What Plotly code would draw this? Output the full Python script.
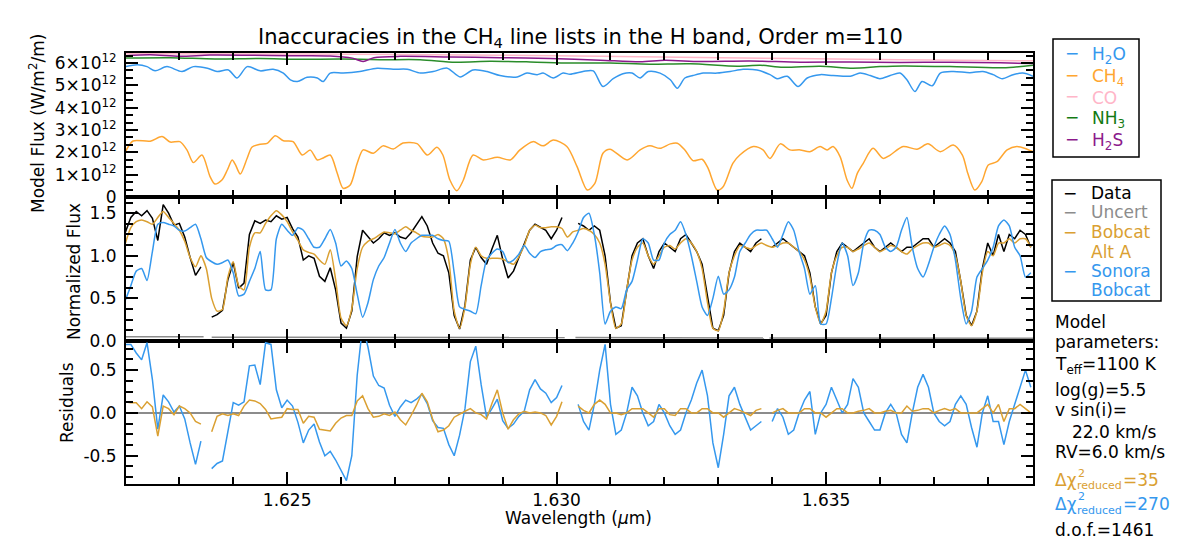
import plotly.graph_objects as go
from plotly.subplots import make_subplots

# ---------------- data ----------------
# common wavelength grid (micron) for the observed spectrum and the two models
wavelength = [
    1.6220, 1.6221, 1.6222, 1.6223, 1.6224, 1.6225, 1.6226, 1.6227, 1.6228, 1.6229,
    1.6230, 1.6231, 1.6232, 1.6233, 1.6234, 1.6235, 1.6236, 1.6237, 1.6238, 1.6239,
    1.6240, 1.6241, 1.6242, 1.6243, 1.6244, 1.6245, 1.6246, 1.6247, 1.6248, 1.6249,
    1.6250, 1.6251, 1.6252, 1.6253, 1.6254, 1.6255, 1.6256, 1.6257, 1.6258, 1.6259,
    1.6260, 1.6261, 1.6262, 1.6263, 1.6264, 1.6265, 1.6266, 1.6267, 1.6268, 1.6269,
    1.6270, 1.6271, 1.6272, 1.6273, 1.6274, 1.6275, 1.6276, 1.6277, 1.6278, 1.6279,
    1.6280, 1.6281, 1.6282, 1.6283, 1.6284, 1.6285, 1.6286, 1.6287, 1.6288, 1.6289,
    1.6290, 1.6291, 1.6292, 1.6293, 1.6294, 1.6295, 1.6296, 1.6297, 1.6298, 1.6299,
    1.6300, 1.6301, 1.6302, 1.6303, 1.6304, 1.6305, 1.6306, 1.6307, 1.6308, 1.6309,
    1.6310, 1.6311, 1.6312, 1.6313, 1.6314, 1.6315, 1.6316, 1.6317, 1.6318, 1.6319,
    1.6320, 1.6321, 1.6322, 1.6323, 1.6324, 1.6325, 1.6326, 1.6327, 1.6328, 1.6329,
    1.6330, 1.6331, 1.6332, 1.6333, 1.6334, 1.6335, 1.6336, 1.6337, 1.6338, 1.6339,
    1.6340, 1.6341, 1.6342, 1.6343, 1.6344, 1.6345, 1.6346, 1.6347, 1.6348, 1.6349,
    1.6350, 1.6351, 1.6352, 1.6353, 1.6354, 1.6355, 1.6356, 1.6357, 1.6358, 1.6359,
    1.6360, 1.6361, 1.6362, 1.6363, 1.6364, 1.6365, 1.6366, 1.6367, 1.6368, 1.6369,
    1.6370, 1.6371, 1.6372, 1.6373, 1.6374, 1.6375, 1.6376, 1.6377, 1.6378, 1.6379,
    1.6380, 1.6381, 1.6382, 1.6383, 1.6384, 1.6385, 1.6386, 1.6387, 1.6388,
]

data_flux = [
    1.28, 1.45, 1.52, 1.47, 1.53, 1.44, 1.18, 1.60, 1.50, 1.36,
    1.38, 1.22, 0.98, 0.77, 0.87, None, 0.28, 0.31, 0.36, 0.72,
    0.92, 0.62, 0.68, 1.25, 1.41, 1.38, 1.42, 1.40, 1.47, 1.43,
    1.45, 1.32, 1.22, 0.95, 1.00, 0.97, 0.76, 0.70, 0.86, 0.60,
    0.21, 0.15, 0.35, 0.99, 1.30, 1.22, 1.15, 1.20, 1.27, 1.24,
    1.27, 1.22, 1.20, 1.27, 1.36, 1.46, 1.35, 1.15, 1.03, 1.00,
    0.80, 0.30, 0.14, 0.42, 0.95, 1.10, 0.98, 0.90, 1.08, 1.24,
    0.96, 0.74, 0.82, 0.98, 1.14, 1.30, 1.37, 1.33, 1.30, 1.20,
    1.30, 1.45, None, None, 1.38, 1.35, 1.30, 1.35, 1.30, 1.00,
    0.45, 0.15, 0.18, 0.60, 1.00, 1.15, 1.20, 1.00, 0.85, 1.05,
    1.15, 1.10, 1.05, 1.20, 1.25, 1.15, 1.05, 0.90, 0.50, 0.15,
    0.12, 0.30, 0.80, 1.05, 1.15, 1.10, 1.05, 1.15, 1.20, None,
    1.10, 1.15, 1.20, 1.15, 1.10, 1.05, 1.00, 0.80, 0.40, 0.20,
    0.30, 0.80, 1.05, 1.15, 1.10, 1.05, 1.10, 1.15, 1.20, 1.10,
    1.05, 1.10, 1.15, 1.10, 1.05, 1.10, 1.10, 1.15, 1.20, 1.20,
    1.10, 1.15, 1.20, 1.15, 1.05, 0.70, 0.30, 0.18, 0.35, 0.85,
    1.15, 1.00, 1.25, 1.05, 1.25, 1.20, 1.30, 1.25, 1.10,
]

bobcat_alt_a = [
    1.15, 1.33, 1.40, 1.42, 1.40, 1.37, 1.45, 1.52, 1.45, 1.38,
    1.30, 1.17, 0.98, 0.87, 1.00, 0.85, 0.50, 0.35, 0.37, 0.75,
    0.93, 0.65, 0.60, 1.10, 1.27, 1.27, 1.38, 1.47, 1.53, 1.48,
    1.40, 1.28, 1.18, 1.07, 1.04, 1.02, 0.95, 0.90, 1.07, 0.72,
    0.27, 0.18, 0.38, 0.85, 1.10, 1.17, 1.20, 1.24, 1.28, 1.27,
    1.26, 1.30, 1.34, 1.30, 1.27, 1.23, 1.22, 1.22, 1.25, 1.20,
    0.95, 0.35, 0.15, 0.40, 0.90, 1.10, 1.00, 0.97, 0.97, 0.97,
    0.96, 0.93, 0.90, 0.99, 1.12, 1.30, 1.36, 1.33, 1.33, 1.34,
    1.34, 1.32, 1.22, 1.28, 1.30, 1.32, 1.30, 1.25, 1.15, 0.90,
    0.45, 0.15, 0.20, 0.60, 0.95, 1.10, 1.15, 1.00, 0.90, 1.00,
    1.10, 1.12, 1.08, 1.15, 1.20, 1.15, 1.05, 0.85, 0.45, 0.15,
    0.12, 0.35, 0.80, 1.00, 1.12, 1.10, 1.08, 1.12, 1.15, 1.12,
    1.10, 1.12, 1.15, 1.15, 1.10, 1.05, 0.95, 0.75, 0.40, 0.20,
    0.35, 0.80, 1.00, 1.10, 1.10, 1.05, 1.08, 1.12, 1.15, 1.10,
    1.05, 1.08, 1.12, 1.10, 1.05, 1.02, 1.08, 1.12, 1.15, 1.15,
    1.10, 1.12, 1.15, 1.12, 1.00, 0.70, 0.30, 0.18, 0.35, 0.80,
    1.05, 1.00, 1.15, 1.15, 1.20, 1.15, 1.20, 1.20, 1.10,
]

sonora_bobcat = [
    0.48, 0.65, 0.82, 0.85, 0.71, 1.05, 1.37, 1.39, 1.37, 1.35,
    1.30, 1.29, 1.33, 1.37, 1.20, 0.98, 0.93, 0.90, 0.92, 0.95,
    0.80, 0.53, 0.55, 0.70, 0.85, 1.05, 0.60, 0.60, 1.20, 1.37,
    1.30, 1.24, 1.33, 1.30, 1.20, 1.10, 1.10, 1.20, 1.31, 1.15,
    0.88, 0.94, 0.85, 0.55, 0.28, 0.45, 0.72, 0.88, 0.98, 1.15,
    1.31, 1.15, 1.05, 1.15, 1.20, 1.24, 1.24, 1.24, 1.20, 1.18,
    1.17, 0.80, 0.40, 0.37, 0.35, 0.32, 0.65, 0.95, 1.03, 1.08,
    1.05, 0.92, 0.95, 1.02, 1.12, 1.03, 0.98, 1.05, 1.07, 1.08,
    1.12, 1.13, 1.06, 1.15, 1.28, 1.45, 1.50, 1.25, 0.80, 0.20,
    0.35, 0.40, 0.38, 0.60, 0.70, 0.95, 1.20, 1.15, 0.95, 0.95,
    1.15, 1.25, 1.30, 1.40, 1.25, 1.00, 0.70, 0.40, 0.30, 0.50,
    0.76, 0.55, 0.60, 0.75, 1.05, 1.15, 1.25, 1.30, 1.30, 1.30,
    1.20, 1.10, 1.25, 1.40, 1.30, 1.05, 0.85, 0.55, 0.65, 0.20,
    0.20, 0.50, 0.90, 1.15, 1.00, 0.65, 0.80, 1.15, 1.30, 1.30,
    1.25, 1.10, 1.05, 1.10, 1.30, 1.45, 1.10, 0.85, 0.75, 0.90,
    1.10, 1.25, 1.35, 1.25, 0.95, 0.50, 0.20, 0.35, 0.75, 0.85,
    0.95, 1.10, 1.35, 1.42, 1.35, 1.10, 1.00, 0.75, 0.80,
]

uncert_wl = [1.62200, 1.62345, 1.62350, 1.62360, 1.62800, 1.63015, 1.63025,
             1.63035, 1.63300, 1.63385, 1.63390, 1.63395, 1.63884]
uncert = [0.050, 0.050, None, 0.045, 0.045, 0.040, None,
          0.040, 0.040, 0.035, None, 0.035, 0.032]

# molecular model fluxes, units of 1e12 W/m^2/m
h2o_wl = [1.62200, 1.62222, 1.62240, 1.62255, 1.62277, 1.62305, 1.62326, 1.62352, 1.62370, 1.62391,
          1.62407, 1.62426, 1.62450, 1.62474, 1.62493, 1.62506, 1.62519, 1.62537, 1.62556, 1.62567,
          1.62580, 1.62604, 1.62635, 1.62667, 1.62697, 1.62723, 1.62747, 1.62771, 1.62797, 1.62821,
          1.62845, 1.62871, 1.62895, 1.62927, 1.62945, 1.62964, 1.62975, 1.62994, 1.63012, 1.63025,
          1.63049, 1.63068, 1.63086, 1.63105, 1.63123, 1.63140, 1.63155, 1.63170, 1.63192, 1.63211,
          1.63224, 1.63238, 1.63253, 1.63272, 1.63298, 1.63322, 1.63346, 1.63372, 1.63396, 1.63409,
          1.63428, 1.63448, 1.63465, 1.63489, 1.63513, 1.63545, 1.63563, 1.63582, 1.63600, 1.63619,
          1.63637, 1.63650, 1.63665, 1.63678, 1.63697, 1.63712, 1.63736, 1.63767, 1.63791, 1.63810,
          1.63827, 1.63847, 1.63865, 1.63884]
h2o_flux = [5.84, 5.92, 5.84, 5.65, 5.84, 5.62, 5.84, 5.77, 5.62, 5.69,
            5.33, 5.84, 5.65, 5.72, 5.55, 5.25, 5.17, 5.36, 5.33, 5.17,
            5.55, 5.55, 5.62, 5.77, 5.72, 5.72, 5.55, 5.62, 5.77, 5.38,
            5.69, 5.62, 5.44, 5.38, 5.55, 5.48, 5.55, 5.33, 5.55, 5.50,
            5.62, 5.65, 4.95, 5.30, 5.52, 5.55, 5.33, 5.62, 5.55, 5.25,
            4.87, 5.33, 5.44, 5.55, 5.55, 5.62, 5.72, 5.69, 5.48, 5.30,
            5.41, 4.95, 5.33, 5.48, 5.44, 5.41, 5.55, 5.44, 5.30, 5.44,
            5.55, 5.25, 4.72, 5.17, 4.98, 5.55, 5.62, 5.57, 5.62, 5.48,
            5.30, 5.48, 5.55, 5.41]

ch4_wl = [1.62200, 1.62214, 1.62246, 1.62268, 1.62283, 1.62301, 1.62314, 1.62326, 1.62342, 1.62357,
          1.62366, 1.62379, 1.62389, 1.62398, 1.62404, 1.62413, 1.62426, 1.62435, 1.62450, 1.62463,
          1.62478, 1.62493, 1.62511, 1.62528, 1.62543, 1.62556, 1.62567, 1.62580, 1.62593, 1.62604,
          1.62617, 1.62630, 1.62641, 1.62660, 1.62678, 1.62697, 1.62715, 1.62741, 1.62760, 1.62778,
          1.62789, 1.62802, 1.62815, 1.62827, 1.62845, 1.62864, 1.62890, 1.62914, 1.62932, 1.62956,
          1.62975, 1.62994, 1.63019, 1.63038, 1.63057, 1.63071, 1.63086, 1.63099, 1.63131, 1.63155,
          1.63173, 1.63192, 1.63211, 1.63224, 1.63238, 1.63253, 1.63270, 1.63281, 1.63298, 1.63309,
          1.63327, 1.63340, 1.63365, 1.63383, 1.63396, 1.63415, 1.63433, 1.63452, 1.63470, 1.63489,
          1.63502, 1.63513, 1.63526, 1.63539, 1.63548, 1.63558, 1.63569, 1.63587, 1.63606, 1.63619,
          1.63643, 1.63669, 1.63689, 1.63712, 1.63736, 1.63753, 1.63763, 1.63776, 1.63789, 1.63801,
          1.63817, 1.63836, 1.63854, 1.63873, 1.63884]
ch4_flux = [2.03, 2.51, 2.50, 2.71, 2.46, 2.48, 2.11, 1.54, 1.88, 0.91,
            0.58, 0.76, 1.21, 1.66, 1.45, 1.03, 1.75, 2.24, 2.36, 2.40,
            2.74, 2.52, 2.48, 1.88, 2.10, 1.66, 1.75, 1.88, 1.06, 0.39,
            0.54, 1.51, 2.11, 1.96, 2.29, 2.15, 2.42, 2.39, 1.88, 2.23,
            1.88, 0.76, 0.28, 0.76, 1.88, 1.66, 1.78, 1.66, 2.11, 2.48,
            2.29, 2.55, 2.26, 1.36, 0.31, 0.61, 1.96, 2.14, 1.66, 2.11,
            2.29, 2.18, 2.38, 2.41, 2.11, 1.63, 1.69, 1.29, 0.31, 0.46,
            1.51, 1.88, 2.26, 2.11, 1.73, 2.38, 2.11, 2.11, 2.03, 2.26,
            2.11, 2.26, 1.81, 0.76, 0.39, 1.06, 1.51, 2.18, 1.73, 1.88,
            2.26, 2.14, 2.38, 2.03, 2.33, 1.88, 1.06, 0.31, 0.69, 1.43,
            1.58, 2.11, 2.26, 2.14, 2.03]

co_wl = [1.62200, 1.62524, 1.62895, 1.63266, 1.63637, 1.63884]
co_flux = [6.42, 6.40, 6.35, 6.25, 6.15, 6.10]

nh3_wl = [1.62200, 1.62283, 1.62366, 1.62450, 1.62524, 1.62598, 1.62673, 1.62747, 1.62812, 1.62877,
          1.62951, 1.63025, 1.63099, 1.63173, 1.63248, 1.63335, 1.63378, 1.63420, 1.63489, 1.63550,
          1.63600, 1.63643, 1.63730, 1.63828, 1.63884]
nh3_flux = [6.22, 6.24, 6.18, 6.20, 6.17, 6.18, 6.15, 6.15, 6.04, 6.08,
            6.05, 6.00, 6.00, 5.95, 5.97, 5.86, 5.90, 5.81, 5.86, 5.77,
            5.84, 5.87, 5.84, 5.79, 5.90]

h2s_wl = [1.62200, 1.62246, 1.62301, 1.62357, 1.62431, 1.62506, 1.62580, 1.62621, 1.62641, 1.62661,
          1.62710, 1.62802, 1.62895, 1.62988, 1.63081, 1.63155, 1.63201, 1.63266, 1.63359, 1.63452,
          1.63545, 1.63637, 1.63730, 1.63823, 1.63884]
h2s_flux = [6.33, 6.37, 6.30, 6.36, 6.35, 6.33, 6.32, 6.22, 6.07, 6.24,
            6.30, 6.27, 6.24, 6.20, 6.13, 6.06, 6.12, 6.07, 6.09, 6.04,
            6.05, 6.03, 6.04, 6.01, 5.98]

flux_ticks = [0, 1, 2, 3, 4, 5, 6]
flux_ticktext = ["0"] + ["%d\u00d710<sup>12</sup>" % v for v in flux_ticks[1:]]

# residuals = data - model
res_alt = [d - m if d is not None else None for d, m in zip(data_flux, bobcat_alt_a)]
res_sonora = [d - m if d is not None else None for d, m in zip(data_flux, sonora_bobcat)]

# ---------------- colours / style ----------------
C_H2O = "#3598ee"
C_CH4 = "#ffa630"
C_CO = "#ffb6c8"
C_NH3 = "#2a8c2a"
C_H2S = "#8b1a8b"
C_ALT = "#daa032"
C_SON = "#3598ee"
C_UNC = "#8c8c8c"
FONT = "DejaVu Sans"

W, H = 1200, 554
L, R, T, B = 126, 1033, 53, 484


def px(x):
    return (x - L) / (R - L)


def py(y):
    return (B - y) / (B - T)


fig = make_subplots(rows=3, cols=1, shared_xaxes=True, vertical_spacing=0)

scale = 1e12
for wl, fl, col, name in [(h2o_wl, h2o_flux, C_H2O, "H2O"), (ch4_wl, ch4_flux, C_CH4, "CH4"),
                          (co_wl, co_flux, C_CO, "CO"), (nh3_wl, nh3_flux, C_NH3, "NH3"),
                          (h2s_wl, h2s_flux, C_H2S, "H2S")]:
    fig.add_trace(go.Scatter(x=wl, y=[v * scale for v in fl], mode="lines", name=name,
                             line=dict(color=col, width=1.5, shape="spline", smoothing=0.8),
                             showlegend=False), row=1, col=1)

fig.add_trace(go.Scatter(x=wavelength, y=data_flux, mode="lines", name="Data",
                         line=dict(color="black", width=1.5), showlegend=False), row=2, col=1)
fig.add_trace(go.Scatter(x=uncert_wl, y=uncert, mode="lines", name="Uncert",
                         line=dict(color=C_UNC, width=1.5), showlegend=False), row=2, col=1)
fig.add_trace(go.Scatter(x=wavelength, y=bobcat_alt_a, mode="lines", name="Bobcat Alt A",
                         line=dict(color=C_ALT, width=1.5, shape="spline", smoothing=0.6),
                         showlegend=False), row=2, col=1)
fig.add_trace(go.Scatter(x=wavelength, y=sonora_bobcat, mode="lines", name="Sonora Bobcat",
                         line=dict(color=C_SON, width=1.5, shape="spline", smoothing=0.6),
                         showlegend=False), row=2, col=1)

fig.add_trace(go.Scatter(x=[wavelength[0], wavelength[-1]], y=[0, 0], mode="lines", name="zero",
                         line=dict(color=C_UNC, width=2), showlegend=False), row=3, col=1)
fig.add_trace(go.Scatter(x=wavelength, y=res_sonora, mode="lines", name="Sonora resid",
                         line=dict(color=C_SON, width=1.5), showlegend=False), row=3, col=1)
fig.add_trace(go.Scatter(x=wavelength, y=res_alt, mode="lines", name="Alt A resid",
                         line=dict(color=C_ALT, width=1.5), showlegend=False), row=3, col=1)

tickstyle = dict(showline=True, linecolor="black", linewidth=2, mirror="allticks",
                 ticks="inside", ticklen=12, tickwidth=1.5, tickcolor="black",
                 showgrid=False, zeroline=False,
                 tickfont=dict(family=FONT, size=17, color="black"))
minor_x = dict(ticks="inside", ticklen=7, tickwidth=1.5, tickcolor="black",
               tick0=1.625, dtick=0.001, showgrid=False)

for i in (1, 2, 3):
    fig.update_xaxes(range=[1.62201, 1.63884], tickmode="linear", tick0=1.625, dtick=0.005,
                     tickformat=".3f", minor=minor_x, row=i, col=1, **tickstyle)

fig.update_yaxes(range=[0, 6.45e12], tickmode="array",
                 tickvals=[v * scale for v in flux_ticks], ticktext=flux_ticktext,
                 minor=dict(ticks="inside", ticklen=7, tickwidth=1.5, tickcolor="black",
                            tick0=0, dtick=scale / 3, showgrid=False),
                 domain=[py(197), 1.0], row=1, col=1, ticklabelstandoff=4, **tickstyle)
fig.update_yaxes(range=[0, 1.69], tickmode="array", tickvals=[0, 0.5, 1.0, 1.5],
                 ticktext=["0.0", "0.5", "1.0", "1.5"],
                 minor=dict(ticks="inside", ticklen=7, tickwidth=1.5, tickcolor="black",
                            tick0=0, dtick=0.125, showgrid=False),
                 domain=[py(341), py(197)], row=2, col=1, ticklabelstandoff=4, **tickstyle)
fig.update_yaxes(range=[-0.83, 0.84], tickmode="array", tickvals=[-0.5, 0, 0.5],
                 ticktext=["-0.5", "0.0", "0.5"],
                 minor=dict(ticks="inside", ticklen=7, tickwidth=1.5, tickcolor="black",
                            tick0=0, dtick=0.125, showgrid=False),
                 domain=[0, py(341)], row=3, col=1, ticklabelstandoff=4, **tickstyle)

annotations = []


def ann(text, x, y, size=17, color="black", xanchor="left", yanchor="middle", angle=0):
    annotations.append(dict(text=text, x=px(x), y=py(y), xref="paper", yref="paper",
                            xanchor=xanchor, yanchor=yanchor, showarrow=False, textangle=angle,
                            align="left", font=dict(family=FONT, size=size, color=color)))


# title and axis titles
ann("Inaccuracies in the CH<sub>4</sub> line lists in the H band, Order m=110", 580, 38,
    size=21, xanchor="center")
ann("Wavelength (<i>\u03bc</i>m)", 578, 518, size=17, xanchor="center")
ann("Model Flux (W/m<sup>2</sup>/m)", 37, 124, size=17, xanchor="center", angle=-90)
ann("Normalized Flux", 74, 272, size=17, xanchor="center", angle=-90)
ann("Residuals", 67, 403, size=17, xanchor="center", angle=-90)

# legend 1 (molecules)
for label, col, y in [("H<sub>2</sub>O", C_H2O, 55), ("CH<sub>4</sub>", C_CH4, 77),
                      ("CO", C_CO, 98), ("NH<sub>3</sub>", "#137a13", 119),
                      ("H<sub>2</sub>S", C_H2S, 141)]:
    ann("\u2212", 1072, y - 2, size=17, color=col, xanchor="center")
    ann(label, 1090, y, size=17, color=col)

# legend 2 (spectra)
for label, col, y, dash in [("Data", "black", 193, True), ("Uncert", C_UNC, 212, True),
                            ("Bobcat", C_ALT, 232, True), ("Alt A", C_ALT, 252, False),
                            ("Sonora", C_SON, 271, True), ("Bobcat", C_SON, 290, False)]:
    if dash:
        ann("\u2212", 1070, y, size=17, color=col, xanchor="center")
    ann(label, 1089, y, size=17, color=col)

# model parameters
ann("Model", 1053, 322)
ann("parameters:", 1053, 342)
ann("T<sub>eff</sub>=1100 K", 1053, 365)
ann("log(g)=5.5", 1053, 390)
ann("v sin(i)=", 1053, 410)
ann("22.0 km/s", 1070, 432)
ann("RV=6.0 km/s", 1053, 452)
for yc, col, val in [(480, C_ALT, "=35"), (504, C_SON, "=270")]:
    ann("\u0394\u03c7", 1053, yc, color=col)
    ann("2", 1076, yc - 7, size=11, color=col)
    ann("reduced", 1075, yc + 6, size=11, color=col)
    ann(val, 1121, yc, color=col)
ann("d.o.f.=1461", 1053, 530)

shapes = [
    dict(type="rect", xref="paper", yref="paper", x0=px(1053), x1=px(1139), y0=py(157), y1=py(39),
         line=dict(color="black", width=1.5)),
    dict(type="rect", xref="paper", yref="paper", x0=px(1052), x1=px(1161), y0=py(301), y1=py(180),
         line=dict(color="black", width=1.5)),
]

fig.update_layout(width=W, height=H, margin=dict(l=L, r=W - R, t=T, b=H - B),
                  paper_bgcolor="white", plot_bgcolor="white",
                  annotations=annotations, shapes=shapes, showlegend=False,
                  font=dict(family=FONT, size=17, color="black"))

fig.write_html("out.html")
